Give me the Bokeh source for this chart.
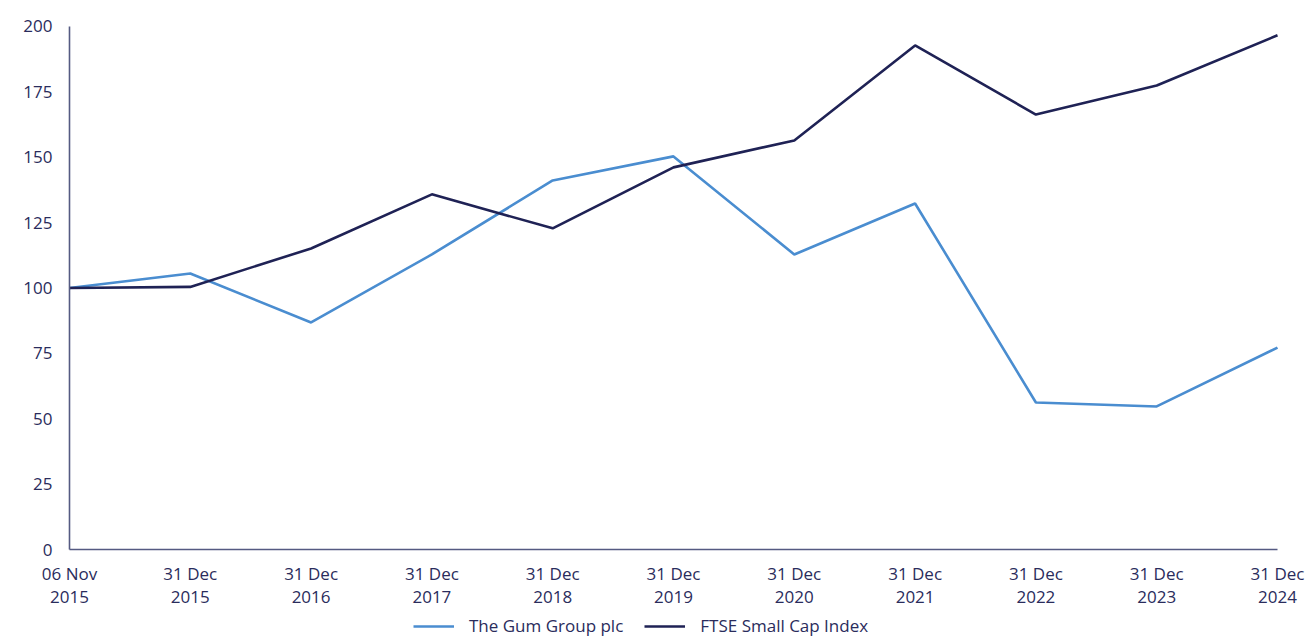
from bokeh.plotting import figure
from bokeh.models import Range1d, FixedTicker, Legend, LegendItem, LinearAxis
from bokeh.embed import file_html
from bokeh.resources import INLINE

dates = ["06 Nov\n2015", "31 Dec\n2015", "31 Dec\n2016", "31 Dec\n2017", "31 Dec\n2018",
         "31 Dec\n2019", "31 Dec\n2020", "31 Dec\n2021", "31 Dec\n2022", "31 Dec\n2023",
         "31 Dec\n2024"]
gum = [100, 105.5, 86.8, 112.8, 141.1, 150.3, 112.8, 132.3, 56.2, 54.7, 77.2]
ftse = [100, 100.4, 115.1, 135.8, 122.8, 146.1, 156.4, 192.7, 166.3, 177.4, 196.6]
yticks = [0, 25, 50, 75, 100, 125, 150, 175, 200]

xs = list(range(len(dates)))
TEXT = "#2a2c5c"
FONT = "Open Sans"
FS = "17px"

# the frame fills the whole page; both axes sit at fixed locations inside it
p = figure(width=1306, height=639, output_backend="svg", toolbar_location=None,
           x_range=Range1d(-0.571, len(dates) - 1 + 0.240), y_range=Range1d(-34.4, 209.9),
           min_border_left=0, min_border_right=0, min_border_top=0, min_border_bottom=0,
           x_axis_location=None, y_axis_location=None)
p.outline_line_color = None
p.grid.visible = False
p.background_fill_color = "white"

xaxis = LinearAxis(fixed_location=0, bounds=(0, len(dates) - 1))
yaxis = LinearAxis(fixed_location=0, bounds=(0, 200))
p.add_layout(xaxis, "below")
p.add_layout(yaxis, "left")

g1 = p.line(xs, gum, line_color="#4a8dd0", line_width=2.6)
g2 = p.line(xs, ftse, line_color="#1f2255", line_width=2.6)

for ax in (xaxis, yaxis):
    ax.axis_line_color = "#555a82"
    ax.axis_line_width = 1.6
    ax.major_tick_line_color = None
    ax.minor_tick_line_color = None
    ax.major_label_text_color = TEXT
    ax.major_label_text_font = FONT
    ax.major_label_text_font_size = FS

yaxis.ticker = FixedTicker(ticks=yticks)
yaxis.major_label_standoff = 11
xaxis.ticker = FixedTicker(ticks=xs)
xaxis.major_label_overrides = {i: d for i, d in enumerate(dates)}
xaxis.major_label_standoff = 6
xaxis.major_label_text_line_height = 1.0

legend = Legend(items=[LegendItem(label="The Gum Group plc", renderers=[g1]),
                       LegendItem(label="FTSE Small Cap Index", renderers=[g2])],
                orientation="horizontal", location=(413, 2),
                border_line_color=None, background_fill_alpha=0,
                label_text_font=FONT, label_text_font_size=FS, label_text_color=TEXT,
                label_height=18, glyph_height=18,
                glyph_width=41, spacing=21, label_standoff=15, padding=0, margin=0)
p.add_layout(legend)

open("out.html", "w").write(file_html(p, INLINE))
